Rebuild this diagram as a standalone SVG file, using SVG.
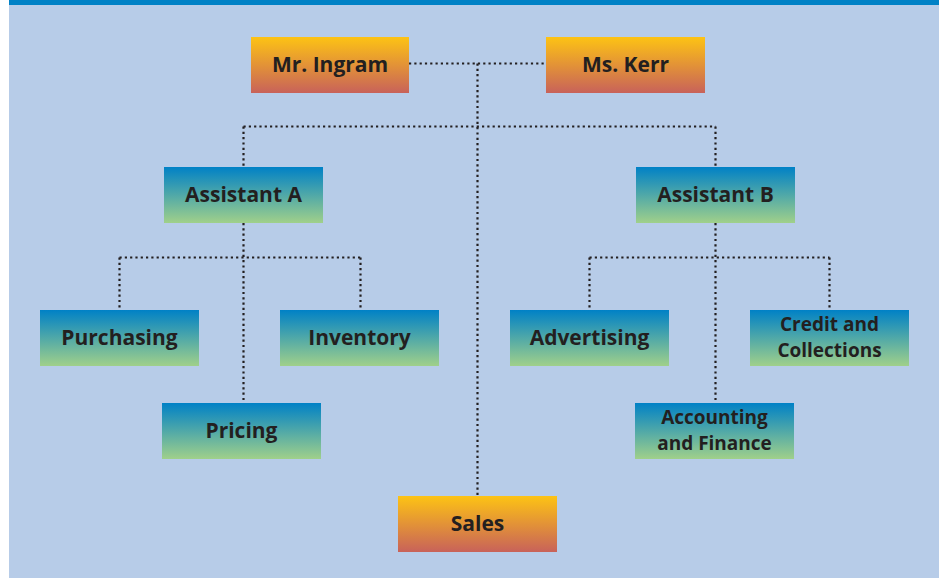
<svg xmlns="http://www.w3.org/2000/svg" width="939" height="578" viewBox="0 0 939 578">
<defs>
<linearGradient id="gO" x1="0" y1="0" x2="0" y2="1">
<stop offset="0" stop-color="#FDC314"/><stop offset="1" stop-color="#C8625A"/>
</linearGradient>
<linearGradient id="gB" x1="0" y1="0" x2="0" y2="1">
<stop offset="0" stop-color="#0081C6"/><stop offset="1" stop-color="#A0D08A"/>
</linearGradient>
<style>
.o{fill:url(#gO)}
.b{fill:url(#gB)}
text{font-family:"Open Sans","Noto Sans","Liberation Sans",sans-serif;font-weight:bold;font-size:21px;fill:#231F20;text-anchor:middle}
text.two{font-size:19px}
.c{fill:none;stroke:#231F20;stroke-width:2.2;stroke-dasharray:2.2 3.1}
</style>
</defs>
<rect x="0" y="0" width="939" height="578" fill="#FFFFFF"/>
<rect x="9" y="0" width="930" height="578" fill="#B7CCE8"/>
<rect x="9" y="0" width="930" height="5" fill="#0081C6"/>
<g id="connectors">
<path class="c" d="M409 63.5H546"/>
<path class="c" d="M477.5 63.5V495"/>
<path class="c" d="M243.5 126.5H715.5"/>
<path class="c" d="M243.5 126.5V167"/>
<path class="c" d="M715.5 126.5V167"/>
<path class="c" d="M243.5 223V403"/>
<path class="c" d="M119.5 257.5H360.5"/>
<path class="c" d="M119.5 257.5V310"/>
<path class="c" d="M360.5 257.5V310"/>
<path class="c" d="M715.5 223V403"/>
<path class="c" d="M589.5 257.5H829.5"/>
<path class="c" d="M589.5 257.5V310"/>
<path class="c" d="M829.5 257.5V310"/>
</g>
<g id="ingram"><rect class="o" x="251" y="37" width="158" height="56"/><text x="330" y="72">Mr. Ingram</text></g>
<g id="kerr"><rect class="o" x="546" y="37" width="159" height="56"/><text x="625.5" y="72">Ms. Kerr</text></g>
<g id="assistantA"><rect class="b" x="164" y="167" width="159" height="56"/><text x="243.5" y="202">Assistant A</text></g>
<g id="assistantB"><rect class="b" x="636" y="167" width="159" height="56"/><text x="715.5" y="202">Assistant B</text></g>
<g id="purchasing"><rect class="b" x="40" y="310" width="159" height="56"/><text x="119.5" y="345">Purchasing</text></g>
<g id="inventory"><rect class="b" x="280" y="310" width="159" height="56"/><text x="359.5" y="345">Inventory</text></g>
<g id="pricing"><rect class="b" x="162" y="403" width="159" height="56"/><text x="241.5" y="438">Pricing</text></g>
<g id="advertising"><rect class="b" x="510" y="310" width="159" height="56"/><text x="589.5" y="345">Advertising</text></g>
<g id="credit"><rect class="b" x="750" y="310" width="159" height="56"/><text class="two" x="829.5" y="331">Credit and<tspan x="829.5" dy="26">Collections</tspan></text></g>
<g id="accounting"><rect class="b" x="635" y="403" width="159" height="56"/><text class="two" x="714.5" y="424">Accounting<tspan x="714.5" dy="26">and Finance</tspan></text></g>
<g id="sales"><rect class="o" x="398" y="496" width="159" height="56"/><text x="477.5" y="531">Sales</text></g>
</svg>
